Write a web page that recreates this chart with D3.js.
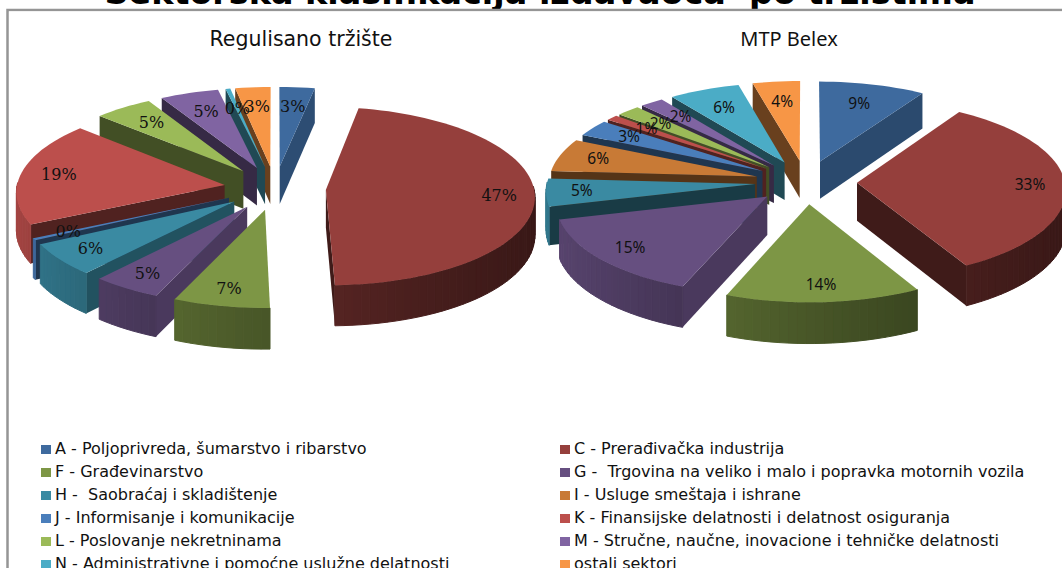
<!DOCTYPE html>
<html>
<head>
<meta charset="utf-8">
<script src="https://cdnjs.cloudflare.com/ajax/libs/d3/7.8.5/d3.min.js"></script>
<style>
html, body { margin: 0; padding: 0; background: #fff; overflow: hidden; }
</style>
</head>
<body>
<div id="chart"></div>
<script>
var mainTitle = "Sektorska klasifikacija izdavaoca  po tržištima";
var sectors = [
    "A - Poljoprivreda, šumarstvo i ribarstvo",
    "C - Prerađivačka industrija",
    "F - Građevinarstvo",
    "G -  Trgovina na veliko i malo i popravka motornih vozila",
    "H -  Saobraćaj i skladištenje",
    "I - Usluge smeštaja i ishrane",
    "J - Informisanje i komunikacije",
    "K - Finansijske delatnosti i delatnost osiguranja",
    "L - Poslovanje nekretninama",
    "M - Stručne, naučne, inovacione i tehničke delatnosti",
    "N - Administrativne i pomoćne uslužne delatnosti",
    "ostali sektori"
];
var regulisanoValues = [3, 47, 7, 5, 6, null, 0.4, 19, 5, 5, 0.4, 3];
var belexValues = [9, 33, 14, 15, 5, 6, 3, 1, 2, 2, 6, 4];

var topColors = ["#3e6a9e", "#953f3c", "#7d9645", "#664f80", "#3a8aa2", "#c87a36",
                 "#4a7ebb", "#bc4f4c", "#9bba58", "#8064a2", "#4bacc6", "#f79646"];

var width = 1062, height = 568;
var radius = 208, squash = 0.44, persp = 0.068, depth = 38, explode = 51, labelAt = 0.83;

var svg = d3.select("#chart").append("svg").attr("width", width).attr("height", height);

svg.append("text").attr("x", 540).attr("y", 4).attr("text-anchor", "middle")
    .attr("xml:space", "preserve")
    .style("font", "bold 33.4px 'DejaVu Sans'").text(mainTitle);

// chart frame, only the top and left edges are in the crop
svg.append("path").attr("d", "M7.5," + height + "V10H" + width)
    .attr("fill", "none").attr("stroke", "#959595").attr("stroke-width", 2.5);
svg.append("rect").attr("x", 9).attr("y", 11.5).attr("width", width).attr("height", height).attr("fill", "#fff");

// cut faces turned to the right catch light, the ones turned to the left do not
var cutShade = d3.scaleLinear().domain([120, 150]).range([0.9, 2.4]).clamp(true);
var wallShade = d3.scaleLinear().domain([-1, 1]).range([0.4, 2.7]);

function drawPie(values, cx, cy, title, titleX, titleFont, labelFont) {
    svg.append("text").attr("x", titleX).attr("y", 46).attr("text-anchor", "middle")
        .style("font", titleFont).attr("fill", "#111").text(title);

    var pie = d3.pie().sort(null).value(function (d) { return d.value; });
    var slices = pie(values.map(function (v, i) { return {value: v || 0, index: i, missing: v === null}; }))
        .filter(function (s) { return !s.data.missing; });

    // ground plane (u right, v toward viewer) to screen, with a little perspective
    function project(u, v, z) {
        var s = 1 + persp * v / radius;
        return [cx + u * s, cy + (v * squash - z) * s];
    }
    function apexOf(s) {
        var mid = (s.startAngle + s.endAngle) / 2;
        return [explode * Math.sin(mid), -explode * Math.cos(mid)];
    }
    function rimOf(s, angle, frac) {
        var a = apexOf(s);
        return [a[0] + radius * frac * Math.sin(angle), a[1] - radius * frac * Math.cos(angle)];
    }
    function pt(g, z) { return project(g[0], g[1], z); }
    function poly(pts) { return d3.line()(pts) + "Z"; }
    function deg(a) { return a * 180 / Math.PI; }

    var order = slices.slice().sort(function (a, b) { return apexOf(a)[1] - apexOf(b)[1]; });

    order.forEach(function (s) {
        var base = d3.color(topColors[s.data.index]);
        var apex = apexOf(s);
        var g = svg.append("g");

        // the two cut faces, only when they turn toward the viewer
        if (Math.sin(s.startAngle) < -0.001) {
            var r0 = rimOf(s, s.startAngle, 1);
            g.append("path").attr("fill", base.darker(cutShade(deg(s.startAngle) - 90)))
                .attr("d", poly([pt(apex, depth), pt(r0, depth), pt(r0, 0), pt(apex, 0)]));
        }
        if (Math.sin(s.endAngle) > 0.001) {
            var r1 = rimOf(s, s.endAngle, 1);
            g.append("path").attr("fill", base.darker(cutShade(deg(s.endAngle) + 90)))
                .attr("d", poly([pt(apex, depth), pt(r1, depth), pt(r1, 0), pt(apex, 0)]));
        }

        // outer wall in short strips, darker toward the right
        var steps = Math.max(2, Math.ceil((s.endAngle - s.startAngle) / 0.04));
        d3.range(steps).forEach(function (k) {
            var a0 = s.startAngle + (s.endAngle - s.startAngle) * k / steps;
            var a1 = s.startAngle + (s.endAngle - s.startAngle) * (k + 1) / steps;
            if (Math.cos((a0 + a1) / 2) > 0.02) return;
            var p0 = rimOf(s, a0, 1), p1 = rimOf(s, a1, 1);
            var c = base.darker(wallShade(Math.sin((a0 + a1) / 2)));
            g.append("path").attr("fill", c).attr("stroke", c).attr("stroke-width", 1)
                .attr("d", poly([pt(p0, 0), pt(p1, 0), pt(p1, depth), pt(p0, depth)]));
        });

        // top face
        var top = [pt(apex, depth)];
        d3.range(steps + 1).forEach(function (k) {
            top.push(pt(rimOf(s, s.startAngle + (s.endAngle - s.startAngle) * k / steps, 1), depth));
        });
        g.append("path").attr("fill", base).attr("d", poly(top));
    });

    // data labels go on top of every slice, in data order; pulled in a bit at the back
    slices.forEach(function (s) {
        var mid = (s.startAngle + s.endAngle) / 2;
        var p = pt(rimOf(s, mid, labelAt - 0.1 * Math.max(0, Math.cos(mid))), depth);
        svg.append("text").attr("x", p[0]).attr("y", p[1] + 5).attr("text-anchor", "middle")
            .style("font", labelFont).attr("fill", "#111")
            .text(Math.round(s.data.value) + "%");
    });
}

drawPie(regulisanoValues, 275, 226, "Regulisano tržište", 301, "20.5px 'DejaVu Sans'", "16px 'DejaVu Serif'");
drawPie(belexValues, 806, 220, "MTP Belex", 789, "20px 'Noto Sans'", "15.5px 'Noto Sans'");

// legend, two columns, clipped by the bottom of the picture
var legendY = d3.scaleLinear().domain([0, 5]).range([449, 564]);
sectors.forEach(function (name, i) {
    var col = i % 2, row = Math.floor(i / 2);
    var x = col === 0 ? 41 : 560;
    svg.append("rect").attr("x", x).attr("y", legendY(row) - 4).attr("width", 10).attr("height", 9)
        .attr("fill", topColors[i]);
    svg.append("text").attr("x", x + 14).attr("y", legendY(row) + 5)
        .attr("xml:space", "preserve")
        .style("font", "16px 'DejaVu Sans'").attr("fill", "#111").text(name);
});
</script>
</body>
</html>
